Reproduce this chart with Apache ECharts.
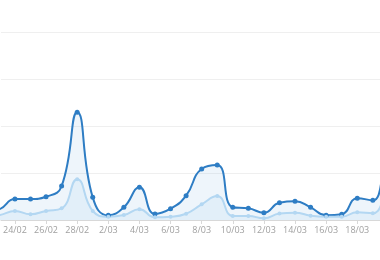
<!DOCTYPE html>
<html>
<head>
<meta charset="utf-8">
<script src="https://cdn.jsdelivr.net/npm/echarts@6/dist/echarts.min.js"></script>
<style>html,body{margin:0;padding:0;background:#fff}#c{width:380px;height:260px}</style>
</head>
<body>
<div id="c"></div>
<script>
var categories = ['22/02','23/02','24/02','25/02','26/02','27/02','28/02','1/03','2/03','3/03','4/03','5/03','6/03','7/03','8/03','9/03','10/03','11/03','12/03','13/03','14/03','15/03','16/03','17/03','18/03','19/03','20/03','21/03'];
var seriesTotal = [8.5,11.4,22.3,22.3,24.8,36.2,114.6,24.1,5.0,13.5,34.8,6.4,12.0,25.9,54.3,58.5,13.5,12.4,7.8,18.4,19.9,13.5,5.0,6.1,23.1,21.0,55,40];
var seriesPart = [4,5.3,9.6,6.1,9.6,12.4,43.3,9.6,3.5,5.3,11.4,2.9,3.5,6.7,16.7,25.5,4.3,4.3,1.8,6.9,7.8,4.6,3.5,3.5,8.2,7.1,23.4,15];
var labelIdx = [2,4,6,8,10,12,14,16,18,20,22,24,26];

function pairs(arr){ return arr.map(function(v,i){ return [i, v]; }); }

var chart = echarts.init(document.getElementById('c'), null, {renderer:'canvas'});
chart.setOption({
  animation: false,
  grid: {left: 0, right: 0, top: 32, bottom: 40, containLabel: false},
  xAxis: {
    type: 'value', min: 1.1026, max: 25.4615,
    splitLine: {show: false},
    axisLine: {onZero: false, lineStyle: {color: '#d8d8d8'}},
    axisTick: {customValues: labelIdx, length: 4, lineStyle: {color: '#d8d8d8'}},
    axisLabel: {customValues: labelIdx, formatter: function(v){ return categories[Math.round(v)]; },
      color: '#a0a0a0', fontSize: 9, fontFamily: 'Open Sans', margin: 6, showMinLabel: true, showMaxLabel: true}
  },
  yAxis: {
    type: 'value', min: 0, max: 200, interval: 50,
    axisLabel: {show: false}, axisLine: {show: false}, axisTick: {show: false},
    splitLine: {lineStyle: {color: '#efefef', width: 1}}
  },
  series: [
    {
      type: 'line', data: pairs(seriesTotal), smooth: true, symbol: 'circle', symbolSize: 5,
      lineStyle: {color: '#2e7dc4', width: 2}, itemStyle: {color: '#2e7dc4'},
      areaStyle: {color: 'rgba(120,175,225,0.18)'}
    },
    {
      type: 'line', data: pairs(seriesPart), smooth: true, symbol: 'circle', symbolSize: 4,
      lineStyle: {color: '#b3d7f2', width: 2}, itemStyle: {color: '#b3d7f2'},
      areaStyle: {color: 'rgba(170,210,240,0.25)'}
    }
  ]
});
</script>
</body>
</html>
